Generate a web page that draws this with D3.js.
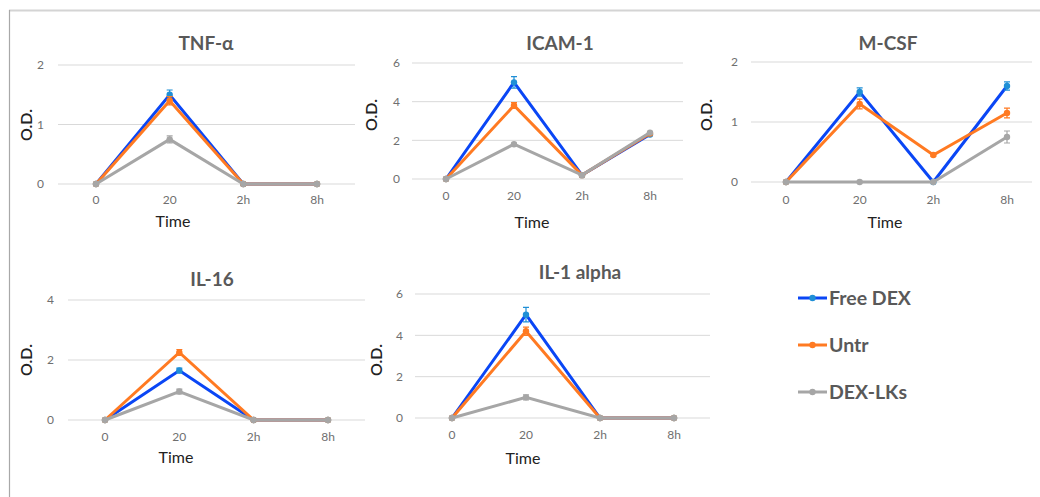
<!DOCTYPE html>
<html>
<head>
<meta charset="utf-8">
<script src="https://cdn.jsdelivr.net/npm/d3@7"></script>
<style>
  body { margin: 0; background: #fff; }
  svg { display: block; font-family: Lato, "Open Sans", sans-serif; }
</style>
</head>
<body>
<svg id="chart" width="1040" height="497"></svg>
<script>
// data
const times = ['0', '20', '2h', '8h']
const seriesNames = ['Free DEX', 'Untr', 'DEX-LKs']

const tnfFree = [0, 1.5, 0, 0], tnfFreeErr = [0, 0.08, 0, 0]
const tnfUntr = [0, 1.4, 0, 0], tnfUntrErr = [0, 0.07, 0, 0]
const tnfLks = [0, 0.75, 0, 0], tnfLksErr = [0, 0.06, 0, 0]

const icamFree = [0, 5.0, 0.2, 2.3], icamFreeErr = [0, 0.3, 0, 0.05]
const icamUntr = [0, 3.8, 0.2, 2.35], icamUntrErr = [0, 0.15, 0, 0.05]
const icamLks = [0, 1.8, 0.2, 2.4], icamLksErr = [0, 0.05, 0, 0.05]

const mcsfFree = [0, 1.5, 0, 1.6], mcsfFreeErr = [0, 0.07, 0, 0.07]
const mcsfUntr = [0, 1.3, 0.45, 1.15], mcsfUntrErr = [0, 0.08, 0.02, 0.08]
const mcsfLks = [0, 0, 0, 0.75], mcsfLksErr = [0, 0, 0, 0.1]

const il16Free = [0, 1.65, 0, 0], il16FreeErr = [0, 0.08, 0, 0]
const il16Untr = [0, 2.25, 0, 0], il16UntrErr = [0, 0.1, 0, 0]
const il16Lks = [0, 0.95, 0, 0], il16LksErr = [0, 0.08, 0, 0]

const il1Free = [0, 5.0, 0, 0], il1FreeErr = [0, 0.35, 0, 0]
const il1Untr = [0, 4.2, 0, 0], il1UntrErr = [0, 0.2, 0, 0]
const il1Lks = [0, 1.0, 0, 0], il1LksErr = [0, 0.12, 0, 0]

const lineColors = ['#0a46f5', '#ff7a22', '#a6a6a6']
const dotColors = ['#1f8fd6', '#ff7a22', '#a6a6a6']

// panel layout (pixel boxes) + which arrays go where
const panels = [
  {title: 'TNF-α', max: 2, step: 1, x0: 58, x1: 355, y0: 65, y1: 184, cx0: 96, cx1: 317,
   tx: 206, ty: 50, tickX: 44, labY: 204, timeY: 227, timeX: 173, odX: 32, odY: 125,
   vals: [tnfFree, tnfUntr, tnfLks], errs: [tnfFreeErr, tnfUntrErr, tnfLksErr]},
  {title: 'ICAM-1', max: 6, step: 2, x0: 412, x1: 683, y0: 63, y1: 179, cx0: 446, cx1: 650,
   tx: 560, ty: 50, tickX: 400, labY: 200, timeY: 228, timeX: 532, odX: 377, odY: 115,
   vals: [icamFree, icamUntr, icamLks], errs: [icamFreeErr, icamUntrErr, icamLksErr]},
  {title: 'M-CSF', max: 2, step: 1, x0: 751, x1: 1032, y0: 62, y1: 182, cx0: 786, cx1: 1007,
   tx: 888, ty: 50, tickX: 738, labY: 204, timeY: 228, timeX: 885, odX: 712, odY: 115,
   vals: [mcsfFree, mcsfUntr, mcsfLks], errs: [mcsfFreeErr, mcsfUntrErr, mcsfLksErr]},
  {title: 'IL-16', max: 4, step: 2, x0: 68, x1: 365, y0: 300, y1: 420, cx0: 105, cx1: 328,
   tx: 212, ty: 286, tickX: 54, labY: 441, timeY: 463, timeX: 176, odX: 32, odY: 360,
   vals: [il16Free, il16Untr, il16Lks], errs: [il16FreeErr, il16UntrErr, il16LksErr]},
  {title: 'IL-1 alpha', max: 6, step: 2, x0: 415, x1: 710, y0: 294, y1: 418, cx0: 452, cx1: 674,
   tx: 580, ty: 279, tickX: 403, labY: 439, timeY: 464, timeX: 523, odX: 382, odY: 360,
   vals: [il1Free, il1Untr, il1Lks], errs: [il1FreeErr, il1UntrErr, il1LksErr]}
]

const svg = d3.select('#chart')

// outer frame
svg.append('line').attr('x1', 9).attr('x2', 1040).attr('y1', 10.5).attr('y2', 10.5)
  .attr('stroke', '#d4d4d4').attr('stroke-width', 2)
svg.append('line').attr('x1', 9.5).attr('x2', 9.5).attr('y1', 10).attr('y2', 497)
  .attr('stroke', '#a8a8a8').attr('stroke-width', 1.2)

panels.forEach(p => {
  const g = svg.append('g')
  const x = d3.scalePoint().domain(times).range([p.cx0, p.cx1])
  const y = d3.scaleLinear().domain([0, p.max]).range([p.y1, p.y0])
  const ticks = d3.range(0, p.max + 0.001, p.step)

  // gridlines
  g.selectAll('.grid').data(ticks).enter().append('line')
    .attr('x1', p.x0).attr('x2', p.x1)
    .attr('y1', d => y(d)).attr('y2', d => y(d))
    .attr('stroke', '#d9d9d9').attr('stroke-width', 1)

  // y tick labels
  g.selectAll('.ytick').data(ticks).enter().append('text')
    .attr('x', p.tickX).attr('y', d => y(d)).attr('dy', '0.35em')
    .attr('text-anchor', 'end').attr('font-size', 12).attr('fill', '#6f6f6f')
    .text(d => d)

  // x tick labels
  g.selectAll('.xtick').data(times).enter().append('text')
    .attr('x', d => x(d)).attr('y', p.labY)
    .attr('text-anchor', 'middle').attr('font-size', 12).attr('fill', '#6f6f6f')
    .text(d => d)

  g.append('text').attr('x', p.tx).attr('y', p.ty).attr('text-anchor', 'middle')
    .attr('font-size', 19).attr('font-weight', 'bold').attr('fill', '#595959').text(p.title)
  g.append('text').attr('x', p.timeX).attr('y', p.timeY).attr('text-anchor', 'middle')
    .attr('font-size', 16).attr('fill', '#222').text('Time')
  g.append('text').attr('transform', `translate(${p.odX},${p.odY}) rotate(-90)`)
    .attr('text-anchor', 'middle').attr('font-size', 16).attr('font-weight', 600)
    .attr('fill', '#222').text('O.D.')

  const line = d3.line().x((d, i) => x(times[i])).y(d => y(d))

  p.vals.forEach((vals, s) => {
    const sg = g.append('g')
    sg.append('path').datum(vals).attr('d', line)
      .attr('fill', 'none').attr('stroke', lineColors[s]).attr('stroke-width', 3)
      .attr('stroke-linejoin', 'miter')
    // error bars
    vals.forEach((v, i) => {
      const e = p.errs[s][i]
      if (!e) return
      const cx = x(times[i])
      sg.append('path')
        .attr('d', `M${cx},${y(v + e)}V${y(v - e)}M${cx - 3},${y(v + e)}H${cx + 3}M${cx - 3},${y(v - e)}H${cx + 3}`)
        .attr('stroke', dotColors[s]).attr('stroke-width', 1.2).attr('fill', 'none')
    })
    sg.selectAll('circle').data(vals).enter().append('circle')
      .attr('cx', (d, i) => x(times[i])).attr('cy', d => y(d)).attr('r', 3.2)
      .attr('fill', dotColors[s])
  })
})

// legend
const legend = svg.append('g').attr('transform', 'translate(798,0)')
const legendY = [298, 345, 392]
seriesNames.forEach((name, i) => {
  legend.append('line').attr('x1', 0).attr('x2', 29).attr('y1', legendY[i]).attr('y2', legendY[i])
    .attr('stroke', lineColors[i]).attr('stroke-width', 3)
  legend.append('circle').attr('cx', 14.5).attr('cy', legendY[i]).attr('r', 3.2).attr('fill', dotColors[i])
  legend.append('text').attr('x', 31).attr('y', legendY[i]).attr('dy', '0.36em')
    .attr('font-size', 19.5).attr('font-weight', 'bold').attr('fill', '#595959').text(name)
})
</script>
</body>
</html>
